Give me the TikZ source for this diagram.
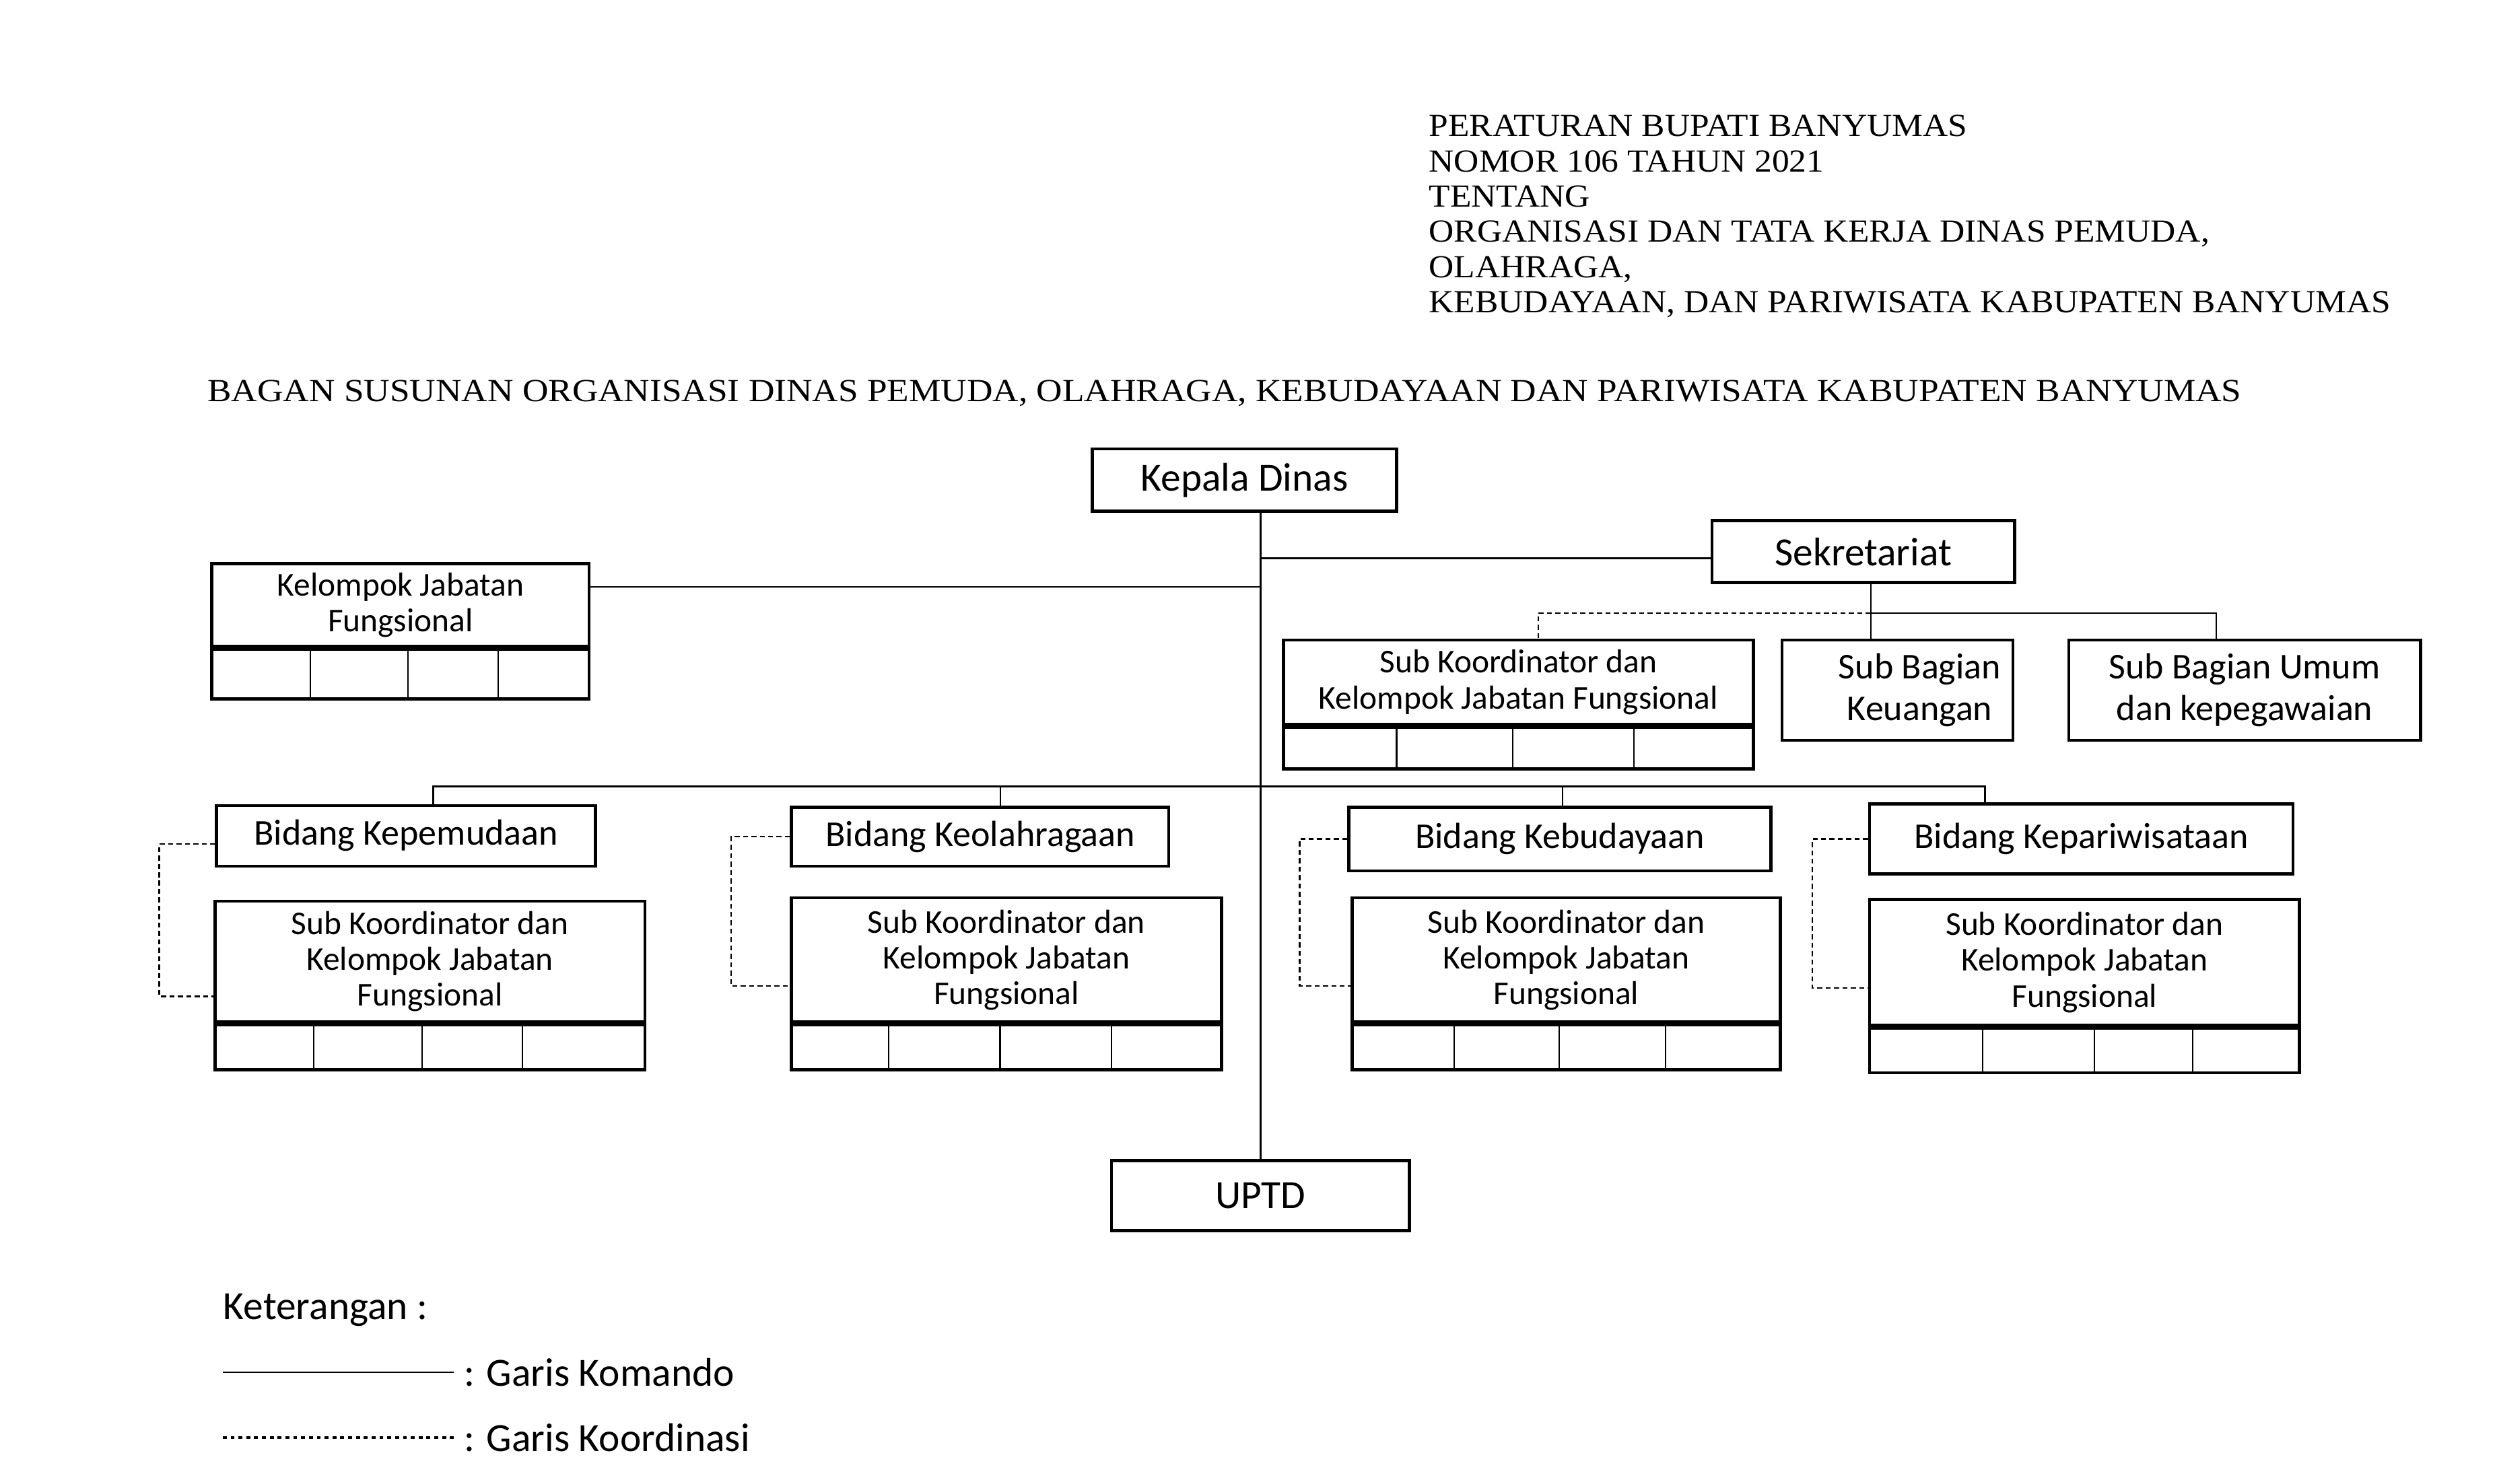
\documentclass[tikz,border=0pt]{standalone}
\usepackage{fontspec}
\setmainfont{Liberation Serif}
\newfontfamily\hdrfont[FakeStretch=1.078]{Liberation Serif}
\newfontfamily\ttlfont[FakeStretch=1.115]{Liberation Serif}
\newfontfamily\calfont{Carlito}
\usetikzlibrary{calc,positioning}

\begin{document}
\begin{tikzpicture}[x=0.02cm,y=-0.02cm,
	orgbox/.style={draw, line width=1.1pt, inner sep=0pt, align=center, font=\calfont\fontsize{13}{15}\selectfont},
	bigbox/.style={orgbox, font=\calfont\fontsize{14.3}{16}\selectfont},
	subbox/.style={orgbox, font=\calfont\fontsize{11.9}{12.8}\selectfont},
	cellrow/.style={draw, line width=1.1pt, inner sep=0pt},
	cell/.style={line width=0.5pt},
	komando/.style={line width=0.6pt},
	koord/.style={line width=0.6pt, dash pattern=on 1.8pt off 1.2pt},
	legendtext/.style={anchor=west, inner sep=0pt, font=\calfont\fontsize{14.3}{16}\selectfont}]
	\useasboundingbox (0,0) rectangle (1568,932);

	% Header text
	\node[anchor=north west, inner sep=0pt, align=left, font=\hdrfont\fontsize{11.5}{12.6}\selectfont] (perbup) at (897,72)
		{PERATURAN BUPATI BANYUMAS\\NOMOR 106 TAHUN 2021\\TENTANG\\ORGANISASI DAN TATA KERJA DINAS PEMUDA,\\OLAHRAGA,\\KEBUDAYAAN, DAN PARIWISATA KABUPATEN BANYUMAS};
	\node[anchor=west, inner sep=0pt, font=\ttlfont\fontsize{11.5}{13}\selectfont] (judul) at (130,247)
		{BAGAN SUSUNAN ORGANISASI DINAS PEMUDA, OLAHRAGA, KEBUDAYAAN DAN PARIWISATA KABUPATEN BANYUMAS};

	% Top level
	\node[bigbox, minimum width=3.82cm, minimum height=0.78cm] (kd) at (781.5,301.5) {Kepala Dinas};
	\node[bigbox, minimum width=3.80cm, minimum height=0.78cm] (sekr) at (1170,346.5) {Sekretariat};
	\node[subbox, minimum width=4.74cm, minimum height=1.04cm] (kjf) at (251.5,380) {Kelompok Jabatan\\Fungsional};
	\node[cellrow, minimum width=4.74cm, minimum height=0.62cm, below=0pt of kjf] (kjfc) {};
	\node[bigbox, minimum width=3.74cm, minimum height=0.88cm] (uptd) at (791.5,751) {UPTD};

	% Sekretariat units
	\node[subbox, minimum width=5.90cm, minimum height=1.06cm] (sks) at (953.5,428.5) {Sub Koordinator dan\\Kelompok Jabatan Fungsional};
	\node[cellrow, minimum width=5.90cm, minimum height=0.52cm, below=0pt of sks] (sksc) {};
	\node[orgbox, minimum width=2.90cm, minimum height=1.26cm] (sbk) at (1191.5,433.5) {};
	\node[orgbox, draw=none] (sbkt) at ([xshift=0.28cm]sbk.center) {Sub Bagian\\Keuangan};
	\node[orgbox, minimum width=4.42cm, minimum height=1.26cm] (sbu) at (1409.5,433.5) {Sub Bagian Umum\\dan kepegawaian};

	% Bidang
	\node[orgbox, minimum width=4.76cm, minimum height=0.76cm] (bd1) at (255,525) {Bidang Kepemudaan};
	\node[orgbox, minimum width=4.74cm, minimum height=0.74cm] (bd2) at (615.5,525.5) {Bidang Keolahragaan};
	\node[orgbox, minimum width=5.30cm, minimum height=0.80cm] (bd3) at (979.5,527) {Bidang Kebudayaan};
	\node[orgbox, minimum width=5.32cm, minimum height=0.88cm] (bd4) at (1307,527) {Bidang Kepariwisataan};

	% Sub Koordinator per bidang
	\node[subbox, minimum width=5.40cm, minimum height=1.52cm] (sk1) at (270,604) {Sub Koordinator dan\\Kelompok Jabatan\\Fungsional};
	\node[subbox, minimum width=5.40cm, minimum height=1.56cm] (sk2) at (632,603) {Sub Koordinator dan\\Kelompok Jabatan\\Fungsional};
	\node[subbox, minimum width=5.38cm, minimum height=1.56cm] (sk3) at (983.5,603) {Sub Koordinator dan\\Kelompok Jabatan\\Fungsional};
	\node[subbox, minimum width=5.40cm, minimum height=1.58cm] (sk4) at (1309,604.5) {Sub Koordinator dan\\Kelompok Jabatan\\Fungsional};
	\node[cellrow, minimum width=5.40cm, minimum height=0.56cm, below=0pt of sk1] (sk1c) {};
	\node[cellrow, minimum width=5.40cm, minimum height=0.56cm, below=0pt of sk2] (sk2c) {};
	\node[cellrow, minimum width=5.38cm, minimum height=0.56cm, below=0pt of sk3] (sk3c) {};
	\node[cellrow, minimum width=5.40cm, minimum height=0.56cm, below=0pt of sk4] (sk4c) {};

	% Cell dividers
	\foreach \x in {195,256,313} \draw[cell] (\x,0 |- kjfc.north) -- (\x,0 |- kjfc.south);
	\foreach \x in {877,950,1026} \draw[cell] (\x,0 |- sksc.north) -- (\x,0 |- sksc.south);
	\foreach \x in {197,265,328} \draw[cell] (\x,0 |- sk1c.north) -- (\x,0 |- sk1c.south);
	\foreach \x in {558,628,698} \draw[cell] (\x,0 |- sk2c.north) -- (\x,0 |- sk2c.south);
	\foreach \x in {913,979,1046} \draw[cell] (\x,0 |- sk3c.north) -- (\x,0 |- sk3c.south);
	\foreach \x in {1245,1315,1377} \draw[cell] (\x,0 |- sk4c.north) -- (\x,0 |- sk4c.south);

	% Garis komando
	\draw[komando] (kd.south -| uptd.north) -- (uptd.north);
	\coordinate (jsekr) at ($(sekr.north west)!0.6!(sekr.south west)$);
	\coordinate (jkjf) at ($(kjf.north east)!0.29!(kjf.south east)$);
	\draw[komando] (jsekr) -- (jsekr -| uptd.north);
	\draw[komando] (jkjf) -- (jkjf -| uptd.north);

	\coordinate (sbkn) at ($(sbk.north west)!0.386!(sbk.north east)$);
	\coordinate (sbus) at ($(sbkn) + (0,-16)$);
	\draw[komando] (sekr.south -| sbus) -- (sbkn);
	\draw[komando] (sbus) -| ($(sbu.north west)!0.42!(sbu.north east)$);
	\draw[koord] (sbus) -| ($(sks.north west)!0.542!(sks.north east)$);

	\coordinate (bbus) at (uptd.north |- 0,494);
	\draw[komando] ($(bd1.north west)!0.571!(bd1.north east)$) |- (bbus);
	\draw[komando] ($(bd2.north west)!0.553!(bd2.north east)$) |- (bbus);
	\draw[komando] ($(bd3.north west)!0.506!(bd3.north east)$) |- (bbus);
	\draw[komando] ($(bd4.north west)!0.274!(bd4.north east)$) |- (bbus);

	% Garis koordinasi
	\draw[koord] ($(bd1.north west)!0.63!(bd1.south west)$) -- ++(-35,0) |- ($(sk1.north west)!0.78!(sk1.south west)$);
	\draw[koord] (bd2.west) -- ++(-37,0) |- ($(sk2.north west)!0.705!(sk2.south west)$);
	\draw[koord] (bd3.west) -- ++(-30,0) |- ($(sk3.north west)!0.705!(sk3.south west)$);
	\draw[koord] (bd4.west) -- ++(-35,0) |- ($(sk4.north west)!0.70!(sk4.south west)$);

	% Keterangan
	\node[legendtext] (ket) at (140,823) {Keterangan :};
	\node[legendtext] (lkom) at (291,862) {: Garis Komando};
	\node[legendtext] (lkoord) at (291,903) {: Garis Koordinasi};
	\draw[komando] ([xshift=-0.12cm]lkom.west) -- ++(-145,0);
	\draw[line width=0.9pt, dash pattern=on 1.4pt off 1.4pt] ([xshift=-0.12cm]lkoord.west) -- ++(-145,0);
\end{tikzpicture}
\end{document}
